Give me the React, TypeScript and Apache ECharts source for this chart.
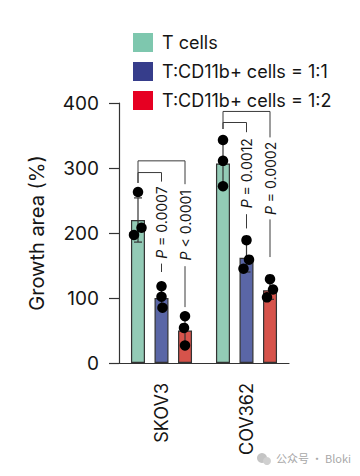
import React, { useEffect, useRef } from 'react';
import * as echarts from 'echarts';

// ---------- data ----------
const categories = ['SKOV3', 'COV362'];
const seriesNames = ['T cells', 'T:CD11b+ cells = 1:1', 'T:CD11b+ cells = 1:2'];

const tCellsMean = [220, 307];
const ratio11Mean = [100, 162];
const ratio12Mean = [50, 112];

const tCellsSd = [34, 36];
const ratio11Sd = [17, 22];
const ratio12Sd = [23, 14];

const tCellsDots = [[263, 208, 197], [343, 311, 272]];
const ratio11Dots = [[118, 102, 85], [189, 159, 145]];
const ratio12Dots = [[72, 54, 27], [129, 113, 101]];

const yMin = 0;
const yMax = 400;
const yInterval = 100;

// significance comparisons
const cmpCategory = [0, 0, 1, 1];
const cmpFromBar = [0, 0, 0, 0];
const cmpToBar = [1, 2, 1, 2];
const cmpTop = [293, 311, 370, 387];
const cmpLeftBottom = [277, 277, 360, 360];
const cmpTextMid = [216, 212, 292, 284];
const cmpRightBottom = [140, 86, 207, 163];
const cmpLabel = ['{i|P} = 0.0007', '{i|P} < 0.0001', '{i|P} = 0.0012', '{i|P} = 0.0002'];

// ---------- styles / layout ----------
const FONT = 'Inter, "Noto Sans", sans-serif';
const TEXT = '#151515';
const AXIS = '#333333';
const barColors = ['#93cbb6', '#5a66a6', '#d6534b'];
const legendColors = ['#7ec7ae', '#363d8b', '#e60022'];
const BAR_W = 14;
const BAR_STEP = 23.5;
const dotJitter = [
  [[0, 3.5, -4], [0, 0, 0]],
  [[0, 0, 1], [0, 2.5, -3]],
  [[0, -1, 0], [0, 3, -3]],
];
const TEXT_HALF = 41;

const means = [tCellsMean, ratio11Mean, ratio12Mean];
const sds = [tCellsSd, ratio11Sd, ratio12Sd];
const dots = [tCellsDots, ratio11Dots, ratio12Dots];

export default function App() {
  const ref = useRef<HTMLDivElement>(null);
  useEffect(() => {
    const chart = echarts.init(ref.current!, null, { renderer: 'svg' });

    const barSeries = seriesNames.map((name, g) => ({
      name,
      type: 'bar',
      data: means[g],
      barWidth: BAR_W,
      barGap: '68%',
      itemStyle: { color: barColors[g], borderColor: AXIS, borderWidth: 1.2 },
      z: 2,
    }));

    const errData: number[][] = [];
    categories.forEach((_, ci) => {
      for (let g = 0; g < 3; g++) errData.push([ci, g, means[g][ci], sds[g][ci]]);
    });

    const errSeries = {
      name: 'error',
      type: 'custom',
      z: 3,
      encode: { x: 0, y: 2 },
      data: errData,
      renderItem: (params: any, api: any) => {
        const ci = api.value(0);
        const g = api.value(1);
        const m = api.value(2);
        const s = api.value(3);
        const x = api.coord([ci, m])[0] + (g - 1) * BAR_STEP;
        const yt = api.coord([ci, m + s])[1];
        const yb = api.coord([ci, m - s])[1];
        const st = { stroke: AXIS, lineWidth: 1.2 };
        return {
          type: 'group',
          children: [
            { type: 'line', shape: { x1: x, y1: yt, x2: x, y2: yb }, style: st },
            { type: 'line', shape: { x1: x - 4, y1: yt, x2: x + 4, y2: yt }, style: st },
            { type: 'line', shape: { x1: x - 4, y1: yb, x2: x + 4, y2: yb }, style: st },
          ],
        };
      },
    };

    const dotSeries = seriesNames.map((name, g) => ({
      name: name + ' points',
      type: 'scatter',
      symbol: 'circle',
      symbolSize: 10.5,
      z: 4,
      itemStyle: { color: '#000000', opacity: 1 },
      data: categories.flatMap((_, ci) =>
        dots[g][ci].map((v, k) => ({
          value: [ci, v],
          symbolOffset: [(g - 1) * BAR_STEP + dotJitter[g][ci][k], 0],
        }))
      ),
    }));

    const cmpData = cmpCategory.map((c, i) => [
      c, cmpTop[i], cmpFromBar[i], cmpToBar[i], cmpLeftBottom[i], cmpTextMid[i], cmpRightBottom[i],
    ]);

    const annSeries = {
      name: 'significance',
      type: 'custom',
      z: 5,
      encode: { x: 0, y: 1 },
      data: cmpData,
      renderItem: (params: any, api: any) => {
        const ci = api.value(0);
        const cx = api.coord([ci, 0])[0];
        const xl = cx + (api.value(2) - 1) * BAR_STEP;
        const xr = cx + (api.value(3) - 1) * BAR_STEP;
        const yTop = api.coord([ci, api.value(1)])[1];
        const yLB = api.coord([ci, api.value(4)])[1];
        const yMid = api.coord([ci, api.value(5)])[1];
        const yRB = api.coord([ci, api.value(6)])[1];
        const st = { stroke: '#3a3a3a', lineWidth: 1 };
        return {
          type: 'group',
          children: [
            { type: 'line', shape: { x1: xl, y1: yTop, x2: xl, y2: yLB }, style: st },
            { type: 'line', shape: { x1: xl, y1: yTop, x2: xr, y2: yTop }, style: st },
            { type: 'line', shape: { x1: xr, y1: yTop, x2: xr, y2: yMid - TEXT_HALF }, style: st },
            { type: 'line', shape: { x1: xr, y1: yMid + TEXT_HALF, x2: xr, y2: yRB }, style: st },
            {
              type: 'text',
              x: xr,
              y: yMid,
              rotation: Math.PI / 2,
              style: {
                text: cmpLabel[params.dataIndex],
                fontSize: 14,
                fontFamily: FONT,
                fill: TEXT,
                align: 'center',
                verticalAlign: 'middle',
                rich: { i: { fontStyle: 'italic', fontSize: 14, fontFamily: FONT, fill: TEXT } },
              },
            },
          ],
        };
      },
    };

    chart.setOption({
      animation: false,
      backgroundColor: '#ffffff',
      textStyle: { fontFamily: FONT, color: TEXT },
      legend: {
        orient: 'vertical',
        left: 128,
        top: 28,
        itemWidth: 20,
        itemHeight: 19,
        itemGap: 10,
        icon: 'rect',
        selectedMode: false,
        textStyle: { fontSize: 18, color: TEXT, fontFamily: FONT, padding: [0, 0, 0, 4] },
        data: seriesNames.map((n, g) => ({
          name: n,
          itemStyle: { color: legendColors[g], borderWidth: 0 },
        })),
      },
      grid: { left: 119, top: 103, width: 170, height: 260 },
      xAxis: {
        type: 'category',
        data: categories,
        axisLine: { lineStyle: { color: AXIS, width: 1.2 } },
        axisTick: { alignWithLabel: true, length: 10, lineStyle: { color: AXIS, width: 1.2 } },
        axisLabel: { rotate: 90, margin: 20, fontSize: 18, color: TEXT, fontFamily: FONT },
      },
      yAxis: {
        type: 'value',
        min: yMin,
        max: yMax,
        interval: yInterval,
        name: 'Growth area (%)',
        nameLocation: 'middle',
        nameGap: 72,
        nameTextStyle: { fontSize: 20, color: TEXT, fontFamily: FONT },
        axisLine: { show: true, lineStyle: { color: AXIS, width: 1.2 } },
        axisTick: { show: true, length: 10, lineStyle: { color: AXIS, width: 1.2 } },
        axisLabel: { margin: 20, fontSize: 19, color: TEXT, fontFamily: FONT },
        splitLine: { show: false },
      },
      graphic: [
        {
          type: 'group',
          left: 257,
          top: 452,
          children: [
            { type: 'circle', shape: { cx: 5, cy: 8, r: 5 }, style: { fill: '#c4c4c4' } },
            { type: 'circle', shape: { cx: 10, cy: 11, r: 4 }, style: { fill: '#d0d0d0' } },
            {
              type: 'text',
              x: 19,
              y: 2,
              style: {
                text: '公众号 · Bloki',
                fontSize: 11,
                fontFamily: '"Noto Sans CJK SC", sans-serif',
                fill: '#a8a8a8',
              },
            },
          ],
        },
      ],
      series: [...barSeries, errSeries, ...dotSeries, annSeries],
    });
    return () => chart.dispose();
  }, []);
  return <div ref={ref} style={{ position: 'absolute', left: 0, top: 0, width: 360, height: 476 }} />;
}
